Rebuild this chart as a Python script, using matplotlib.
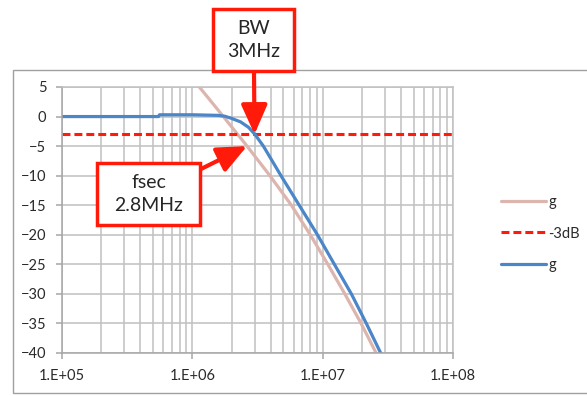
import numpy as np
from matplotlib import pyplot as plt
from matplotlib.patches import Rectangle
from matplotlib.ticker import LogLocator, FuncFormatter, NullFormatter

plt.rcParams['font.family'] = ['Lato', 'DejaVu Sans']

# series (Hz, dB)
g1_f = [1.0e6, 1.132e6, 1.73e6, 2.63e6, 3.936e6, 5.754e6, 8.035e6, 1.096e7, 1.479e7,
        1.972e7, 2.57e7, 2.818e7]
g1_db = [6.5, 5, 0, -5, -10, -15, -20, -25, -30, -35, -40, -41.5]

m3db_f = [1e5, 1e8]
m3db_db = [-3, -3]

g2_f = [1e5, 5.5e5, 5.6e5, 1.0e6, 1.585e6, 1.778e6, 1.995e6, 2.344e6, 2.692e6, 3.02e6,
        3.508e6, 4.074e6, 4.786e6, 5.623e6, 6.607e6, 9.12e6, 1.23e7, 1.66e7, 2.163e7,
        2.786e7, 3.02e7]
g2_db = [0, 0, 0.3, 0.3, 0.2, 0.05, -0.3, -0.9, -1.8, -3,
         -5, -7.4, -10, -12.5, -15, -20, -25, -30, -35,
         -40, -41.5]

labels = ['g', '-3dB', 'g']
W, H = 587, 396


def fx(x):
    return x / W


def fy(y):
    return 1 - y / H


fig = plt.figure(figsize=(W / 100, H / 100), dpi=100)
ax = fig.add_axes([fx(62), fy(353), (453 - 62) / W, (353 - 87) / H])

ax.plot(g1_f, g1_db, color='#dcb5ae', lw=2.3, label=labels[0], solid_capstyle='round')
ax.plot(m3db_f, m3db_db, color='#ff1a0a', lw=2.2, dashes=(2.6, 1.3), label=labels[1])
ax.plot(g2_f, g2_db, color='#4a86c8', lw=2.3, label=labels[2], solid_capstyle='round')

ax.set_xscale('log')
ax.set_xlim(1e5, 1e8)
ax.set_ylim(-40, 5)
ax.set_yticks(np.arange(-40, 6, 5))
ax.xaxis.set_major_locator(LogLocator(base=10, numticks=10))
ax.xaxis.set_minor_locator(LogLocator(base=10, subs=range(2, 10), numticks=20))
ax.xaxis.set_major_formatter(FuncFormatter(lambda v, p: '1.E+%02d' % round(np.log10(v))))
ax.xaxis.set_minor_formatter(NullFormatter())

gc = '#c0c0c0'
ax.set_axisbelow(True)
ax.grid(which='both', axis='x', color=gc, lw=1.1)
ax.grid(which='major', axis='y', color=gc, lw=1.1)
for s in ['top', 'right']:
    ax.spines[s].set_color(gc)
    ax.spines[s].set_linewidth(1.1)
for s in ['left', 'bottom']:
    ax.spines[s].set_color('#a6a6a6')
    ax.spines[s].set_linewidth(1.1)
ax.tick_params(which='major', length=4.3, width=1.1, color='#a6a6a6',
               labelsize=10.5, labelcolor='#2a2a2a')
ax.tick_params(axis='y', pad=7)
ax.tick_params(axis='x', pad=7)
ax.tick_params(which='minor', length=0)

ax.legend(loc='upper left', bbox_to_anchor=(fx(501), fy(195)), bbox_transform=fig.transFigure,
          frameon=False, fontsize=10.5, handlelength=3.1, handletextpad=0.15,
          labelspacing=1.2, borderpad=0, borderaxespad=0, labelcolor='#2a2a2a')

# outer chart frame
fig.add_artist(Rectangle((fx(13), fy(393)), (600 - 13) / W, (393 - 70) / H,
                         transform=fig.transFigure, fill=False, ec='#a0a0a0', lw=1, zorder=0.5))

# arrows
arrow = dict(arrowstyle='-|>,head_length=0.9,head_width=0.4', color='#ff1a0a', lw=3,
             mutation_scale=20, shrinkA=0, shrinkB=0)
ax.annotate('', xy=(3e6, -3), xycoords='data', xytext=(fx(254), fy(71)),
            textcoords='figure fraction', arrowprops=arrow, annotation_clip=False)
ax.annotate('', xy=(2.63e6, -5), xycoords='data', xytext=(fx(199), fy(170)),
            textcoords='figure fraction', arrowprops=arrow, annotation_clip=False)

# boxes
boxes = [((213, 9, 294, 71), 'BW\n3MHz'), ((97, 163, 200, 225), 'fsec\n2.8MHz')]
for (x0, y0, x1, y1), txt in boxes:
    fig.add_artist(Rectangle((fx(x0), fy(y1)), (x1 - x0) / W, (y1 - y0) / H,
                             transform=fig.transFigure, fc='white', ec='#ff1a0a', lw=2.5, zorder=3))
    fig.text(fx((x0 + x1) / 2), fy((y0 + y1) / 2), txt, ha='center', va='center',
             fontsize=14, linespacing=1.45, color='#262626', zorder=4)

plt.savefig('out.png', dpi=100)
